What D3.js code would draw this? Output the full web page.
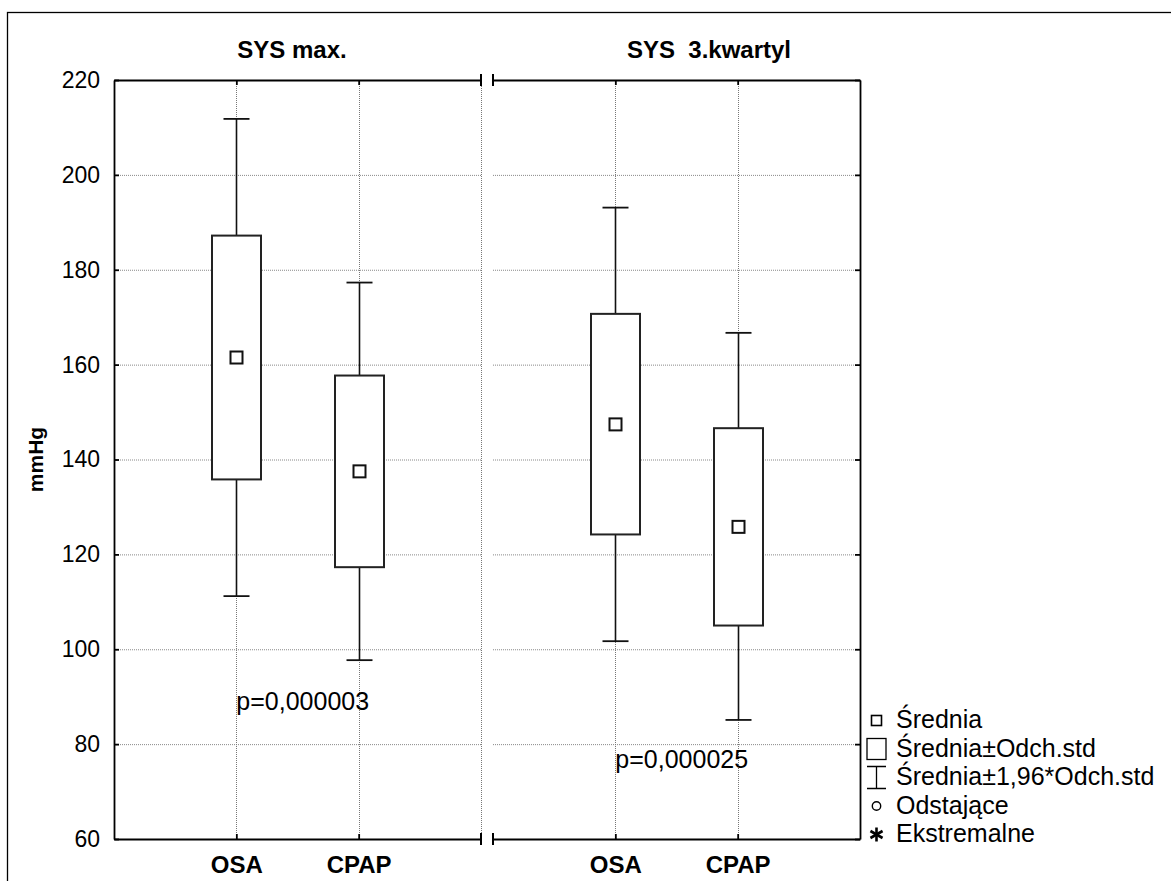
<!DOCTYPE html>
<html>
<head>
<meta charset="utf-8">
<script src="https://cdn.jsdelivr.net/npm/d3@7"></script>
<style>
  body { margin: 0; background: #fff; }
  svg { display: block; font-family: "Liberation Sans", Arial, sans-serif; }
  text { white-space: pre; }
</style>
</head>
<body>
<div id="chart"></div>
<script>
// panels and groups
const panels = ["SYS max.", "SYS  3.kwartyl"];
const groups = ["OSA", "CPAP"];
const yTicks = [60, 80, 100, 120, 140, 160, 180, 200, 220];

// values, one row per panel, [OSA, CPAP]
const means = [[161.5, 137.5], [147.4, 125.8]];
const boxLow = [[135.8, 117.3], [124.2, 105.0]];
const boxHigh = [[187.2, 157.7], [170.7, 146.6]];
const whiskerLow = [[111.2, 97.7], [101.7, 85.1]];
const whiskerHigh = [[211.8, 177.3], [193.1, 166.7]];

const pValues = ["p=0,000003", "p=0,000025"];
const pLevel = [87.2, 75.0];

const legendLabels = ["Średnia", "Średnia±Odch.std", "Średnia±1,96*Odch.std", "Odstające", "Ekstremalne"];

const width = 1171, height = 881;
const plotLeft = 114, plotRight = 860, plotTop = 80, plotBottom = 839;

const svg = d3.select("#chart").append("svg")
    .attr("width", width)
    .attr("height", height);

// outer frame (runs off the right and bottom edge)
svg.append("rect")
    .attr("x", 7.5).attr("y", 12.5)
    .attr("width", 1300).attr("height", 1000)
    .attr("fill", "none").attr("stroke", "#000").attr("stroke-width", 1.3);

const y = d3.scaleLinear().domain([60, 220]).range([plotBottom, plotTop]);

const panelScale = d3.scaleBand()
    .domain(panels)
    .range([plotLeft, plotRight])
    .paddingInner(12 / 379)
    .paddingOuter(0);

const grid = svg.append("g");
const marks = svg.append("g");
const axes = svg.append("g");

panels.forEach((p, i) => {
    const x0 = panelScale(p), x1 = x0 + panelScale.bandwidth();
    const x = d3.scalePoint().domain(groups).range([x0, x1]).padding(1);

    // horizontal grid
    grid.selectAll(null)
        .data(yTicks.slice(1, -1))
        .enter().append("line")
        .attr("x1", x0).attr("x2", x1)
        .attr("y1", d => y(d) + 0.5).attr("y2", d => y(d) + 0.5)
        .attr("stroke", "#888").attr("stroke-width", 1)
        .attr("stroke-dasharray", "1,1");

    // vertical grid at groups and panel end
    grid.selectAll(null)
        .data(groups.map(g => x(g)).concat([x1]))
        .enter().append("line")
        .attr("x1", d => Math.round(d) + 0.5).attr("x2", d => Math.round(d) + 0.5)
        .attr("y1", plotTop).attr("y2", plotBottom)
        .attr("stroke", "#777").attr("stroke-width", 1)
        .attr("stroke-dasharray", "1,1");

    // whiskers, boxes, means
    const bw = 49, cap = 26;
    groups.forEach((g, j) => {
        const cx = Math.round(x(g)) + 0.5;
        marks.append("line")
            .attr("x1", cx).attr("x2", cx)
            .attr("y1", y(whiskerHigh[i][j])).attr("y2", y(whiskerLow[i][j]))
            .attr("stroke", "#111").attr("stroke-width", 1.6);
        [whiskerHigh[i][j], whiskerLow[i][j]].forEach(v => {
            marks.append("line")
                .attr("x1", cx - cap / 2).attr("x2", cx + cap / 2)
                .attr("y1", y(v)).attr("y2", y(v))
                .attr("stroke", "#111").attr("stroke-width", 1.8);
        });
        marks.append("rect")
            .attr("x", cx - bw / 2).attr("width", bw)
            .attr("y", y(boxHigh[i][j])).attr("height", y(boxLow[i][j]) - y(boxHigh[i][j]))
            .attr("fill", "#fff").attr("stroke", "#222").attr("stroke-width", 2);
        marks.append("rect")
            .attr("x", cx - 6).attr("width", 12)
            .attr("y", y(means[i][j]) - 6).attr("height", 12)
            .attr("fill", "#fff").attr("stroke", "#111").attr("stroke-width", 2);
    });

    // p value label
    marks.append("text")
        .attr("x", x(groups[0]))
        .attr("y", y(pLevel[i]))
        .attr("font-size", 25)
        .text(pValues[i]);

    // panel title
    svg.append("text")
        .attr("x", i === 0 ? x0 + 178 : x0 + 216)
        .attr("y", 58)
        .attr("text-anchor", "middle")
        .attr("font-size", 24).attr("font-weight", "bold")
        .text(p);

    // top and bottom axes
    const bottomAxis = d3.axisBottom(x).tickSize(-5).tickSizeOuter(0).tickPadding(17);
    const gb = axes.append("g").attr("transform", `translate(0,${plotBottom})`).call(bottomAxis);
    gb.selectAll("text").attr("font-size", 24).attr("font-weight", "bold")
        .attr("fill", "#000").attr("font-family", "Liberation Sans, Arial, sans-serif");
    const topAxis = d3.axisTop(x).tickSize(-5).tickSizeOuter(0).tickFormat("");
    axes.append("g").attr("transform", `translate(0,${plotTop})`).call(topAxis);

    // panel end markers
    [plotTop, plotBottom].forEach(yy => {
        [x0, x1].forEach(xx => {
            if (xx === plotLeft || xx === plotRight) return;
            axes.append("line")
                .attr("x1", xx).attr("x2", xx)
                .attr("y1", yy - 6).attr("y2", yy + 6)
                .attr("stroke", "#000").attr("stroke-width", 2);
        });
    });
});

// left and right axes
const leftAxis = d3.axisLeft(y).tickValues(yTicks).tickSize(-5).tickSizeOuter(0).tickPadding(14);
const gl = axes.append("g").attr("transform", `translate(${plotLeft},0)`).call(leftAxis);
gl.selectAll("text").attr("font-size", 23).attr("fill", "#000")
    .attr("font-family", "Liberation Sans, Arial, sans-serif");

const rightAxis = d3.axisRight(y).tickValues(yTicks).tickSize(-5).tickSizeOuter(0).tickFormat("");
axes.append("g").attr("transform", `translate(${plotRight},0)`).call(rightAxis);

axes.selectAll("path.domain, .tick line").attr("stroke", "#000").attr("stroke-width", 1.8);

// y axis title
svg.append("text")
    .attr("transform", `translate(43,${(plotTop + plotBottom) / 2}) rotate(-90)`)
    .attr("text-anchor", "middle")
    .attr("font-size", 21).attr("font-weight", "bold")
    .text("mmHg");

// legend
const legend = svg.append("g");
const lx = 876.5, ly0 = 728, lstep = 28.5;
legendLabels.forEach((t, k) => {
    const by = ly0 + k * lstep;
    const cy = by - 7.5;
    legend.append("text").attr("x", 896).attr("y", by).attr("font-size", 25).text(t);
    if (k === 0) {
        legend.append("rect").attr("x", lx - 5).attr("y", cy - 5).attr("width", 10).attr("height", 10)
            .attr("fill", "none").attr("stroke", "#000").attr("stroke-width", 1.6);
    } else if (k === 1) {
        legend.append("rect").attr("x", lx - 9.5).attr("y", cy - 10.5).attr("width", 19).attr("height", 21)
            .attr("fill", "none").attr("stroke", "#000").attr("stroke-width", 1.3);
    } else if (k === 2) {
        legend.append("path")
            .attr("d", `M${lx - 9.5},${cy - 11}H${lx + 9.5}M${lx},${cy - 11}V${cy + 11}M${lx - 9.5},${cy + 11}H${lx + 9.5}`)
            .attr("fill", "none").attr("stroke", "#000").attr("stroke-width", 1.3);
    } else if (k === 3) {
        legend.append("circle").attr("cx", lx).attr("cy", cy).attr("r", 4.2)
            .attr("fill", "none").attr("stroke", "#000").attr("stroke-width", 1.4);
    } else {
        const r = 7;
        [90, 30, 150].forEach(a => {
            const rad = a * Math.PI / 180;
            legend.append("line")
                .attr("x1", lx - r * Math.cos(rad)).attr("x2", lx + r * Math.cos(rad))
                .attr("y1", cy - r * Math.sin(rad)).attr("y2", cy + r * Math.sin(rad))
                .attr("stroke", "#000").attr("stroke-width", 2.6);
        });
    }
});
</script>
</body>
</html>
